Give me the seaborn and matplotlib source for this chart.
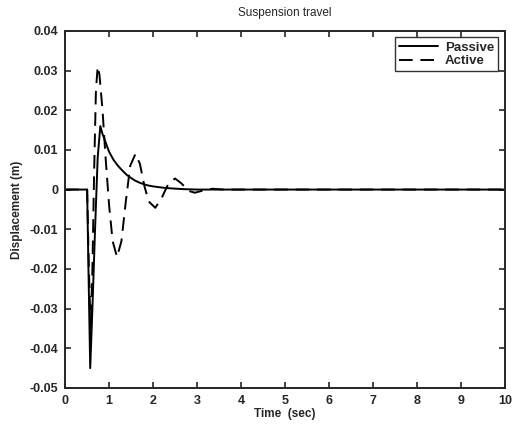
import matplotlib
matplotlib.use("Agg")
import pandas as pd
import matplotlib.pyplot as plt
import seaborn as sns

# values
t_pass = [0, 0.5, 0.53, 0.57, 0.62, 0.68, 0.74, 0.8, 0.85, 0.9, 1.0, 1.1, 1.2, 1.3,
          1.4, 1.5, 1.6, 1.7, 1.8, 1.9, 2.0, 2.2, 2.4, 2.7, 3.0, 10]
passive = [0, 0, -0.02, -0.045, -0.03, -0.01, 0.008, 0.016, 0.014, 0.0125, 0.0095,
           0.0075, 0.006, 0.0048, 0.0037, 0.0029, 0.0022, 0.0017, 0.0013, 0.001,
           0.0008, 0.0005, 0.0003, 0.0001, 0, 0]

t_act = [0, 0.5, 0.54, 0.58, 0.62, 0.66, 0.7, 0.74, 0.78, 0.85, 0.92, 1.0, 1.08, 1.18,
         1.28, 1.38, 1.48, 1.6, 1.7, 1.8, 1.9, 2.05, 2.2, 2.35, 2.5, 2.65, 2.8, 2.95,
         3.15, 3.35, 3.6, 10]
active = [0, 0, -0.02, -0.035, -0.02, 0.005, 0.025, 0.031, 0.029, 0.02, 0.008, -0.004,
          -0.013, -0.017, -0.013, -0.003, 0.006, 0.009, 0.0065, 0.001, -0.003, -0.0046,
          -0.002, 0.0015, 0.0028, 0.0015, -0.0003, -0.0008, -0.0002, 0.0002, 0, 0]

xticks = list(range(0, 11))
yticks = [-0.05, -0.04, -0.03, -0.02, -0.01, 0, 0.01, 0.02, 0.03, 0.04]
ytick_labels = ["-0.05", "-0.04", "-0.03", "-0.02", "-0.01", "0", "0.01", "0.02", "0.03", "0.04"]

sns.set_style("ticks")
plt.rcParams["font.family"] = ["Liberation Sans", "DejaVu Sans"]
plt.rcParams["axes.unicode_minus"] = False

dp = pd.DataFrame({"t": t_pass, "y": passive})
da = pd.DataFrame({"t": t_act, "y": active})

fig = plt.figure(figsize=(5.13, 4.28), dpi=100)
ax = fig.add_axes([0.127, 0.0935, 0.857, 0.8345])
sns.lineplot(data=dp, x="t", y="y", sort=False, estimator=None, color="black",
             linewidth=1.4, label="Passive", ax=ax)
sns.lineplot(data=da, x="t", y="y", sort=False, estimator=None, color="black",
             linewidth=1.4, linestyle=(0, (7, 4)), label="Active", ax=ax)

ax.set_xlim(0, 10)
ax.set_ylim(-0.05, 0.04)
ax.set_xticks(xticks)
ax.set_yticks(yticks)
ax.set_yticklabels(ytick_labels)
ax.tick_params(direction="in", top=True, right=True, labelsize=9, length=4,
               width=1.2, pad=5)
for lbl in ax.get_xticklabels() + ax.get_yticklabels():
    lbl.set_fontweight("bold")
for s in ax.spines.values():
    s.set_linewidth(1.4)
ax.set_title("Suspension travel", fontsize=8.5, pad=11)
ax.set_xlabel("Time  (sec)", fontsize=8.5, fontweight="bold", labelpad=1)
ax.set_ylabel("Displacement (m)", fontsize=8.5, fontweight="bold", labelpad=5)
leg = ax.legend(loc="upper right", fontsize=9.5, frameon=True, fancybox=False,
                edgecolor="black", handlelength=3.0, borderaxespad=0.5,
                labelspacing=0.1, borderpad=0.3, handletextpad=0.5)
leg.get_frame().set_linewidth(1.0)
for txt in leg.get_texts():
    txt.set_fontweight("bold")

fig.savefig("out.png", dpi=100)
